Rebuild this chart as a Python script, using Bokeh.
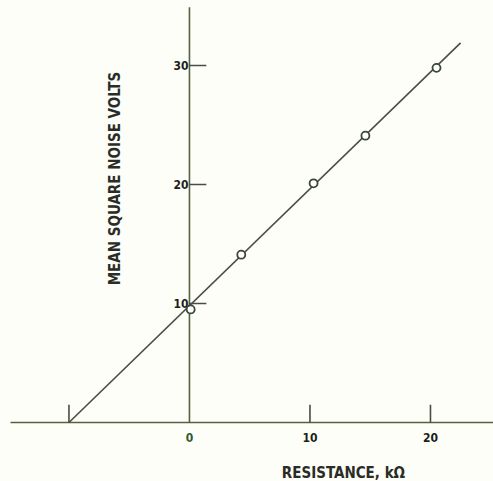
import math
from bokeh.plotting import figure
from bokeh.models import Range1d
from bokeh.core.properties import value
from bokeh.embed import file_html
from bokeh.resources import INLINE

# ---- data ----
resistance_kohm = [0.1, 4.3, 10.3, 14.6, 20.5]
mean_sq_noise = [9.5, 14.1, 20.1, 24.1, 29.8]
fit_x = [-10.0, 22.5]
fit_y = [0.0, 31.9]
x_tick_marks = [-10, 10, 20]
x_tick_pos = [0, 10, 20]
x_tick_labels = ["0", "10", "20"]
y_tick_pos = [10, 20, 30]
y_tick_labels = ["10", "20", "30"]
x_title = "RESISTANCE, k\u03a9"
y_title = "MEAN SQUARE NOISE VOLTS"

BG = "#fdfef7"
INK = "#1c1e1a"
LINE = "#4a4d44"
AXIS = "#58613f"
FONT = value("DejaVu Sans Condensed")

x0, x1 = -15.68, 25.23
y0, y1 = -4.96, 35.46

p = figure(width=493, height=481, x_range=Range1d(x0, x1), y_range=Range1d(y0, y1),
           output_backend="svg", toolbar_location=None, min_border=0,
           x_axis_type=None, y_axis_type=None)
p.grid.visible = False
p.outline_line_color = None
p.background_fill_color = BG
p.border_fill_color = BG

# hand-drawn axes
p.segment(x0=[-14.85], y0=[0], x1=[x1], y1=[0], line_color=AXIS, line_width=1.6)
p.segment(x0=[0], y0=[0], x1=[0], y1=[34.9], line_color=AXIS, line_width=1.6)

# tick marks
p.segment(x0=[0] * len(y_tick_pos), y0=y_tick_pos, x1=[1.4] * len(y_tick_pos), y1=y_tick_pos,
          line_color=LINE, line_width=1.6)
p.segment(x0=x_tick_marks, y0=[0] * len(x_tick_marks), x1=x_tick_marks, y1=[1.5] * len(x_tick_marks),
          line_color=LINE, line_width=1.6)

# tick labels
p.text(x=[0] * len(y_tick_pos), y=y_tick_pos, text=y_tick_labels, text_align="right",
       text_baseline="middle", x_offset=-1, text_font=FONT, text_font_size="12px",
       text_font_style="bold", text_color=INK)
p.text(x=x_tick_pos, y=[-1.25] * len(x_tick_pos), text=x_tick_labels, text_align="center",
       text_baseline="middle", text_font=FONT, text_font_size="12px",
       text_font_style="bold", text_color=["#2f5a33", INK, INK])

# fitted line and measured points
p.line(fit_x, fit_y, line_color=LINE, line_width=1.6)
p.scatter(resistance_kohm, mean_sq_noise, size=8, fill_color="white",
          line_color="#3a4838", line_width=1.8)

# axis titles
p.text(x=[-6.22], y=[20.5], text=[y_title], angle=math.pi / 2, text_align="center",
       text_baseline="middle", text_font=FONT, text_font_size="15px",
       text_font_style="bold", text_color="#2a2c28")
p.text(x=[12.78], y=[-4.25], text=[x_title], text_align="center",
       text_baseline="alphabetic", text_font=FONT, text_font_size="15px",
       text_font_style="bold", text_color="#2a2c28")

open("out.html", "w").write(file_html(p, INLINE))
